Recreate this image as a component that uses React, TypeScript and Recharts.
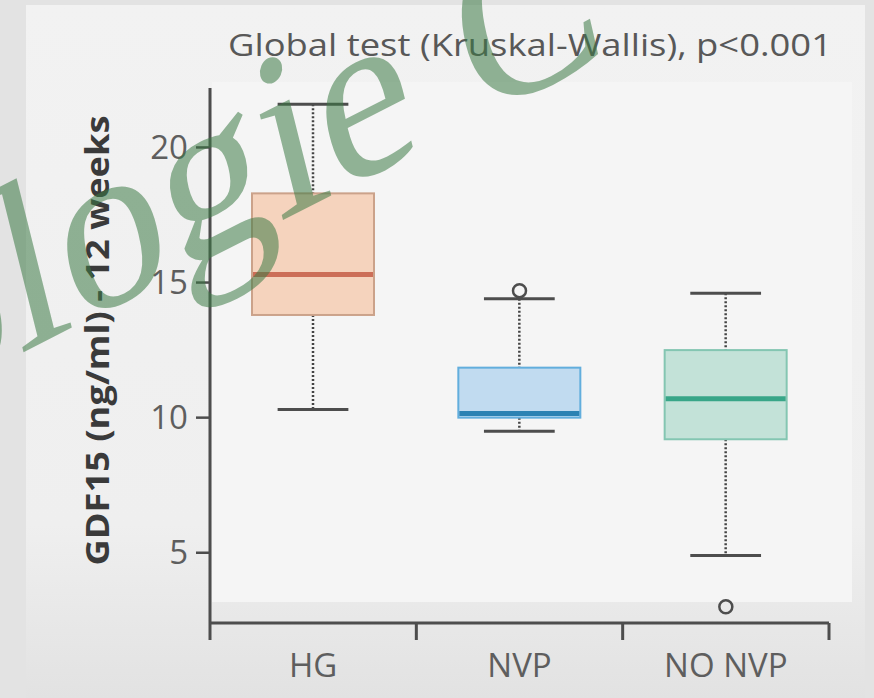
import React from 'react';
import { ComposedChart, Bar, Scatter, XAxis, YAxis, Label } from 'recharts';

const groups = ['HG', 'NVP', 'NO NVP'];
const whiskerLow = [10.3, 9.5, 4.9];
const q1 = [13.8, 10.0, 9.2];
const median = [15.3, 10.15, 10.7];
const q3 = [18.3, 11.85, 12.5];
const whiskerHigh = [21.6, 14.4, 14.6];
const outlierGroups = ['NVP', 'NO NVP'];
const outlierValues = [14.7, 3.0];
const yTicks = [5, 10, 15, 20];

const boxColors: Record<string, { fill: string; stroke: string; median: string }> = {
  HG: { fill: '#f5d3bd', stroke: '#cba28a', median: '#cc6e58' },
  NVP: { fill: '#c1dbf0', stroke: '#62aedd', median: '#2c82b3' },
  'NO NVP': { fill: '#c3e2d8', stroke: '#84c6b2', median: '#38a688' },
};

const data = groups.map((name, i) => ({
  name,
  range: [whiskerLow[i], whiskerHigh[i]],
  lo: whiskerLow[i],
  q1: q1[i],
  med: median[i],
  q3: q3[i],
  hi: whiskerHigh[i],
}));

const outliers = outlierGroups.map((name, i) => ({ name, value: outlierValues[i] }));

const FONT = '"Open Sans", "Noto Sans", sans-serif';
const AXIS = '#4d4d4d';

// draws the whole box plot from the range bar geometry
const BoxShape = (props: any) => {
  const { x, y, width, height, payload } = props;
  if (!payload) return null;
  const top = Math.min(y, y + height);
  const h = Math.abs(height);
  const { lo, hi } = payload;
  const toY = (v: number) => top + ((hi - v) / (hi - lo)) * h;
  const cx = x + width / 2;
  const capHalf = width * 0.29;
  const c = boxColors[payload.name];
  return (
    <g>
      <line x1={cx} x2={cx} y1={toY(hi)} y2={toY(payload.q3)} stroke="#444" strokeWidth={2.5} strokeDasharray="2 2" />
      <line x1={cx} x2={cx} y1={toY(payload.q1)} y2={toY(lo)} stroke="#444" strokeWidth={2.5} strokeDasharray="2 2" />
      <line x1={cx - capHalf} x2={cx + capHalf} y1={toY(hi)} y2={toY(hi)} stroke={AXIS} strokeWidth={3} />
      <line x1={cx - capHalf} x2={cx + capHalf} y1={toY(lo)} y2={toY(lo)} stroke={AXIS} strokeWidth={3} />
      <rect
        x={x}
        y={toY(payload.q3)}
        width={width}
        height={toY(payload.q1) - toY(payload.q3)}
        fill={c.fill}
        stroke={c.stroke}
        strokeWidth={2}
      />
      <line x1={x + 1} x2={x + width - 1} y1={toY(payload.med)} y2={toY(payload.med)} stroke={c.median} strokeWidth={5} />
    </g>
  );
};

const OutlierDot = (props: any) => {
  const { cx, cy } = props;
  if (cx == null || cy == null) return null;
  return <circle cx={cx} cy={cy} r={6.5} fill="none" stroke={AXIS} strokeWidth={2.5} />;
};

const CategoryTick = (props: any) => {
  const { x, y, payload, index, visibleTicksCount } = props;
  const half = payload && payload.offset ? payload.offset : 103;
  const last = index === (visibleTicksCount ?? groups.length) - 1;
  return (
    <g>
      <line x1={x - half} x2={x - half} y1={y} y2={y + 17} stroke={AXIS} strokeWidth={3} />
      {last && <line x1={x + half} x2={x + half} y1={y} y2={y + 17} stroke={AXIS} strokeWidth={3} />}
      <text x={x} y={y + 54} textAnchor="middle" fill="#5e5e5e" fontSize={33} fontFamily={FONT}>
        {payload.value}
      </text>
    </g>
  );
};

const YTitle = (props: any) => {
  const vb = props.viewBox || { x: 0, y: 88, width: 210, height: 535 };
  const bx = vb.x + 109;
  const cy = vb.y + vb.height / 2 - 15;
  return (
    <text
      x={bx}
      y={cy}
      transform={`rotate(-90 ${bx} ${cy})`}
      textAnchor="middle"
      fill="#3a3a3a"
      fontSize={33}
      fontWeight={700}
      fontFamily={FONT}
      textLength={450}
      lengthAdjust="spacingAndGlyphs"
    >
      GDF15 (ng/ml) - 12 weeks
    </text>
  );
};

export default function App() {
  return (
    <div style={{ position: 'absolute', left: 0, top: 0, width: 874, height: 698, background: '#e3e3e3', overflow: 'hidden' }}>
      <svg width={874} height={698} style={{ position: 'absolute', left: 0, top: 0 }}>
        <defs>
          <linearGradient id="panel" x1="0" y1="0" x2="0" y2="1">
            <stop offset="0" stopColor="#f2f2f2" />
            <stop offset="0.75" stopColor="#efefef" />
            <stop offset="1" stopColor="#e2e2e2" />
          </linearGradient>
        </defs>
        <rect x={26} y={5} width={839} height={693} fill="url(#panel)" />
        <rect x={212} y={82} width={640} height={520} fill="#f5f5f5" />
        <text
          x={228}
          y={56}
          fill="#585858"
          fontSize={31}
          fontFamily={FONT}
          textLength={604}
          lengthAdjust="spacingAndGlyphs"
        >
          Global test (Kruskal-Wallis), p{'<'}0.001
        </text>
      </svg>
      <div style={{ position: 'absolute', left: 0, top: 0 }}>
        <ComposedChart width={874} height={698} data={data} margin={{ top: 88, right: 45, bottom: 45, left: 0 }}>
          <XAxis
            dataKey="name"
            type="category"
            allowDuplicatedCategory={false}
            height={30}
            axisLine={{ stroke: AXIS, strokeWidth: 3 }}
            tickLine={false}
            tickSize={0}
            tickMargin={0}
            tick={<CategoryTick />}
            interval={0}
          />
          <YAxis
            type="number"
            domain={[2.4, 22.2]}
            ticks={yTicks}
            allowDataOverflow
            width={210}
            axisLine={{ stroke: AXIS, strokeWidth: 3 }}
            tickLine={{ stroke: AXIS, strokeWidth: 2.5 }}
            tickSize={14}
            tickMargin={8}
            tick={{ fill: '#5e5e5e', fontSize: 33, fontFamily: FONT }}
          >
            <Label content={<YTitle />} />
          </YAxis>
          <Bar dataKey="range" barSize={122} shape={<BoxShape />} isAnimationActive={false} />
          <Scatter data={outliers} dataKey="value" shape={<OutlierDot />} isAnimationActive={false} />
        </ComposedChart>
      </div>
      <svg width={874} height={698} style={{ position: 'absolute', left: 0, top: 0, pointerEvents: 'none' }}>
        <text
          transform="translate(-82 406) rotate(-27) skewX(-13)"
          x={0}
          y={0}
          fill="#3d7a45"
          fillOpacity={0.55}
          fontSize={228}
          fontFamily='"Liberation Serif", serif'
          textLength={778}
          lengthAdjust="spacingAndGlyphs"
        >
          ologie C
        </text>
      </svg>
    </div>
  );
}
